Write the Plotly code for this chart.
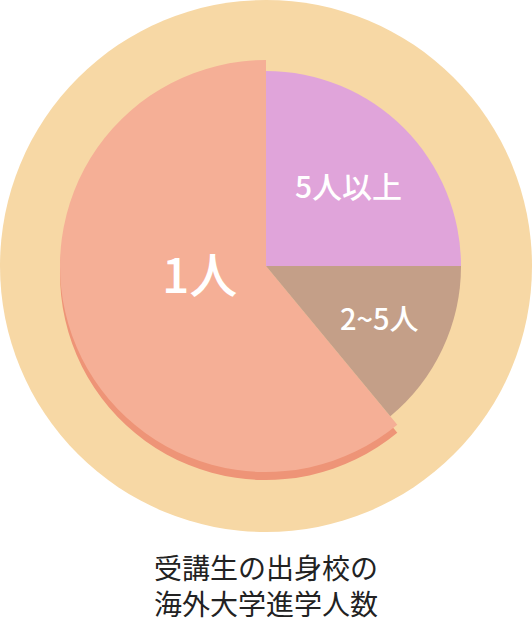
import plotly.graph_objects as go

# ---- data ----
labels = ["5人以上", "2~5人", "1人"]
values = [25, 14, 61]
title_lines = ["受講生の出身校の", "海外大学進学人数"]

# ---- style ----
W, H = 532, 623
bg_color = "#F7D8A5"
slice_colors = ["#E0A4DA", "#C49F88", "#F5AF96"]
shadow_color = "#EE9477"
clear = "rgba(0,0,0,0)"
FONT = "Noto Sans CJK JP"

cx, cy = 266, 266  # pie center in px


def dom(r, dx=0, dy=0):
    x0, x1 = cx + dx - r, cx + dx + r
    y0, y1 = cy + dy - r, cy + dy + r
    return dict(x=[x0 / W, x1 / W], y=[1 - y1 / H, 1 - y0 / H])


common = dict(sort=False, direction="clockwise", rotation=0, textinfo="none",
              hoverinfo="skip", showlegend=False)

fig = go.Figure()
# background disc
fig.add_trace(go.Pie(values=[1], labels=["bg"], marker=dict(colors=[bg_color], line=dict(width=0)),
                     domain=dom(266), **common))
# shadow of the big slice
fig.add_trace(go.Pie(values=values, labels=labels,
                     marker=dict(colors=[clear, clear, shadow_color], line=dict(width=0)),
                     domain=dom(206, dy=8), **common))
# big slice
fig.add_trace(go.Pie(values=values, labels=labels,
                     marker=dict(colors=[clear, clear, slice_colors[2]], line=dict(width=0)),
                     domain=dom(206), **common))
# smaller slices
fig.add_trace(go.Pie(values=values, labels=labels,
                     marker=dict(colors=[slice_colors[0], slice_colors[1], clear], line=dict(width=0)),
                     domain=dom(195), **common))

label_pos = [(348, 185, 30), (379, 317, 29), (199, 272, 48)]
for lab, (x, y, fs) in zip(labels, label_pos):
    fig.add_annotation(x=x / W, y=1 - y / H, xref="paper", yref="paper", text=lab,
                       showarrow=False, xanchor="center", yanchor="middle",
                       font=dict(family=FONT, size=fs, color="white", weight=500))

fig.add_annotation(x=0.5, y=1 - 585 / H, xref="paper", yref="paper",
                   text="<br>".join(title_lines), showarrow=False,
                   xanchor="center", yanchor="middle", borderpad=0,
                   font=dict(family=FONT, size=28, color="#222222"))

fig.update_layout(width=W, height=H, margin=dict(l=0, r=0, t=0, b=0),
                  paper_bgcolor="white", plot_bgcolor="white")

fig.write_html("out.html", config={"displayModeBar": False},
               post_script="document.body.style.margin='0';")
